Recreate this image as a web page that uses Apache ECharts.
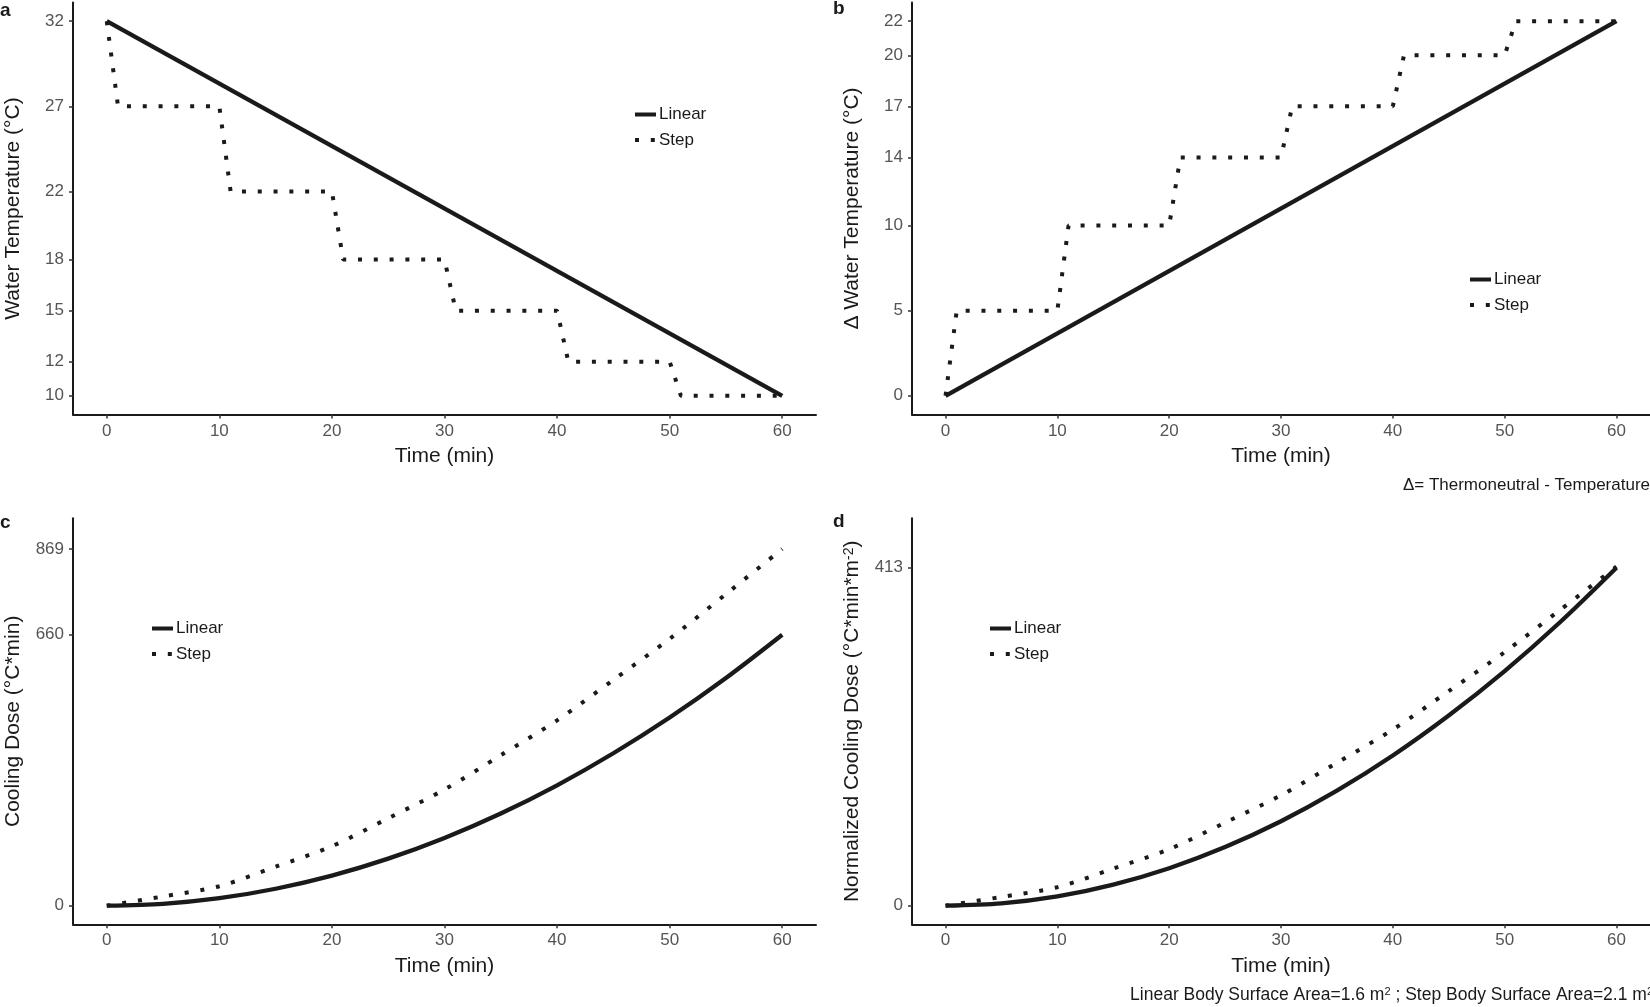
<!DOCTYPE html>
<html>
<head>
<meta charset="utf-8">
<script src="https://cdn.jsdelivr.net/npm/echarts@6/dist/echarts.min.js"></script>
<style>
html,body{margin:0;padding:0;background:#fff;}
#chart{width:1650px;height:1007px;}
</style>
</head>
<body>
<div id="chart"></div>
<script>
// ---- data ----
const timeTicks = [0, 10, 20, 30, 40, 50, 60];
const tempTicks = [10, 12, 15, 18, 22, 27, 32];
const deltaTicks = [0, 5, 10, 14, 17, 20, 22];
const doseTicks = [0, 660, 869];
const normTicks = [0, 413];

const linearTime = [0, 60];
const linearTemp = [32, 10];
const linearDelta = [0, 22];

const stepTime = [0, 1, 10, 11, 20, 21, 30, 31, 40, 41, 50, 51, 60];
const stepTemp = [32, 27, 27, 22, 22, 18, 18, 15, 15, 12, 12, 10, 10];
const stepDelta = [0, 5, 5, 10, 10, 14, 14, 17, 17, 20, 20, 22, 22];

const doseTime = [0, 5, 10, 15, 20, 25, 30, 35, 40, 45, 50, 55, 60];
const linearDose = [0, 4.6, 18.3, 41.3, 73.3, 114.6, 165, 224.6, 293.3, 371.3, 458.3, 554.6, 660];
const stepDose = [0, 22.5, 47.5, 95, 145, 213, 283, 366.5, 451.5, 550, 650, 759, 869];
const linearNormDose = [0, 2.9, 11.4, 25.8, 45.8, 71.6, 103.1, 140.4, 183.3, 232.1, 286.4, 346.6, 412.5];
const stepNormDose = [0, 10.7, 22.6, 45.2, 69.0, 101.4, 134.8, 174.5, 215.0, 261.9, 309.5, 361.4, 413.8];

const seriesNames = ['Linear', 'Step'];

// ---- helpers ----
const FONT = 'Liberation Sans, Arial, Helvetica, sans-serif';
const INK = '#1a1a1a';
const pairs = (xs, ys) => xs.map((x, i) => [x, ys[i]]);

function xAxis(gi) {
  return {
    type: 'value', gridIndex: gi, min: -3, max: 63,
    name: 'Time (min)', nameLocation: 'middle', nameGap: 31,
    nameTextStyle: { fontFamily: FONT, fontSize: 21, color: INK },
    axisLine: { show: true, onZero: false, lineStyle: { color: INK, width: 2 } },
    axisTick: { show: true, length: 4, customValues: timeTicks, lineStyle: { color: '#333', width: 1.5 } },
    axisLabel: { customValues: timeTicks, margin: 8, fontFamily: FONT, fontSize: 17, color: '#555' },
    splitLine: { show: false }
  };
}
function yAxis(gi, min, max, ticks, name, rich) {
  return {
    type: 'value', gridIndex: gi, min: min, max: max,
    name: name, nameLocation: 'middle', nameGap: 49,
    nameTextStyle: { fontFamily: FONT, fontSize: 21, color: INK, rich: rich || {} },
    axisLine: { show: true, onZero: false, lineStyle: { color: INK, width: 2 } },
    axisTick: { show: true, length: 4, customValues: ticks, lineStyle: { color: '#333', width: 1.5 } },
    axisLabel: { customValues: ticks, margin: 9, fontFamily: FONT, fontSize: 17, color: '#555' },
    splitLine: { show: false }
  };
}
function lin(gi, data, smooth) {
  return {
    name: seriesNames[0], type: 'line', xAxisIndex: gi, yAxisIndex: gi,
    data: data, symbol: 'none', smooth: smooth ? 0.3 : false, silent: true,
    lineStyle: { color: INK, width: 4.3, type: 'solid' }, itemStyle: { color: INK }
  };
}
function stp(gi, data, smooth) {
  return {
    name: seriesNames[1], type: 'line', xAxisIndex: gi, yAxisIndex: gi,
    data: data, symbol: 'none', smooth: smooth ? 0.3 : false, silent: true,
    lineStyle: { color: INK, width: 4, type: [4, 11.8], cap: 'butt' }, itemStyle: { color: INK }
  };
}
function legend(left, top) {
  return {
    data: seriesNames, orient: 'vertical', left: left, top: top, padding: 0,
    itemWidth: 21, itemHeight: 20, itemGap: 8.5, selectedMode: false,
    itemStyle: { opacity: 0 },
    lineStyle: { width: 4 },
    textStyle: { fontFamily: FONT, fontSize: 17, color: INK, padding: [0, 0, 0, -2] }
  };
}

const chart = echarts.init(document.getElementById('chart'), null, { renderer: 'canvas' });
chart.setOption({
  animation: false,
  backgroundColor: '#fff',
  grid: [
    { left: 73, top: 2.5, width: 743, height: 412 },
    { left: 912, top: 2.5, width: 739, height: 412 },
    { left: 73, top: 518.3, width: 743, height: 406 },
    { left: 912, top: 518.3, width: 739, height: 406 }
  ],
  xAxis: [xAxis(0), xAxis(1), xAxis(2), xAxis(3)],
  yAxis: [
    yAxis(0, 8.9, 33.1, tempTicks, 'Water Temperature (°C)'),
    yAxis(1, -1.1, 23.1, deltaTicks, 'Δ Water Temperature (°C)'),
    yAxis(2, -45.3, 943.7, doseTicks, 'Cooling Dose (°C*min)'),
    yAxis(3, -22.7, 472.8, normTicks, 'Normalized Cooling Dose (°C*min*m{sup|-2})',
      { sup: { fontFamily: FONT, fontSize: 14, verticalAlign: 'top', color: INK } })
  ],
  legend: [legend(633, 106), legend(1468, 271), legend(150, 620), legend(988, 620)],
  series: [
    lin(0, pairs(linearTime, linearTemp)),
    stp(0, pairs(stepTime, stepTemp)),
    lin(1, pairs(linearTime, linearDelta)),
    stp(1, pairs(stepTime, stepDelta)),
    lin(2, pairs(doseTime, linearDose), true),
    stp(2, pairs(doseTime, stepDose), true),
    lin(3, pairs(doseTime, linearNormDose), true),
    stp(3, pairs(doseTime, stepNormDose), true)
  ],
  graphic: [
    { type: 'text', left: 0, top: 1, style: { text: 'a', font: 'bold 19px ' + FONT, fill: INK } },
    { type: 'text', left: 833, top: -1, style: { text: 'b', font: 'bold 19px ' + FONT, fill: INK } },
    { type: 'text', left: 0, top: 513, style: { text: 'c', font: 'bold 19px ' + FONT, fill: INK } },
    { type: 'text', left: 833, top: 512, style: { text: 'd', font: 'bold 19px ' + FONT, fill: INK } },
    { type: 'text', right: 0, top: 477, style: { text: 'Δ= Thermoneutral - Temperature', font: '17px ' + FONT, fill: INK } },
    { type: 'text', right: -3, top: 986, style: {
        text: 'Linear Body Surface Area=1.6 m{sup|2} ; Step Body Surface Area=2.1 m{sup|2}',
        font: '17.5px ' + FONT, fill: INK,
        rich: { sup: { fontSize: 11, verticalAlign: 'top', fill: INK, fontFamily: FONT } } } }
  ]
});
</script>
</body>
</html>
